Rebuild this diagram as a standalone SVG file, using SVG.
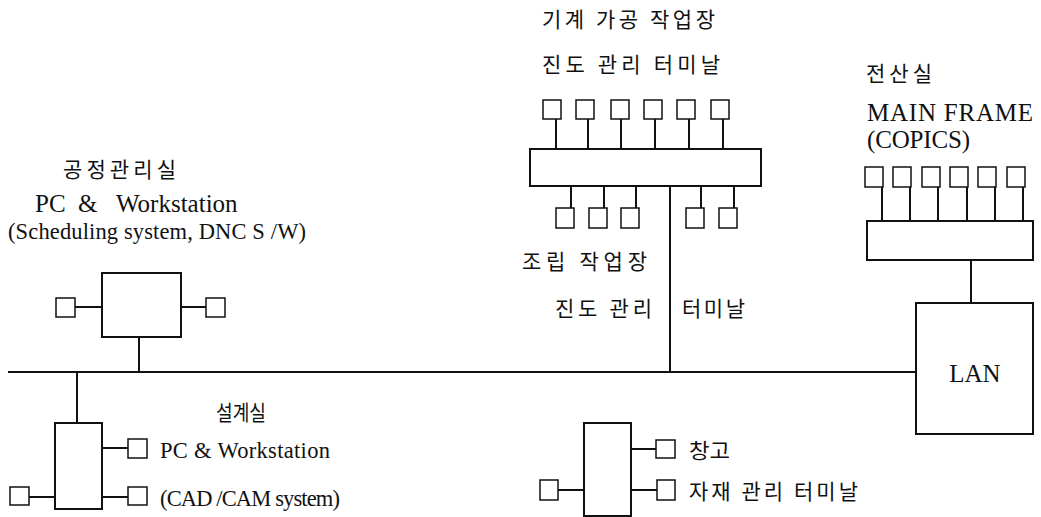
<svg xmlns="http://www.w3.org/2000/svg" width="1041" height="517" viewBox="0 0 1041 517">
<style>
.ln{stroke:#111;stroke-width:2;fill:none}
.bx{stroke:#111;stroke-width:2;fill:#fff}
.sq{stroke:#111;stroke-width:1.5;fill:#fff}
.ko{font-family:"Noto Sans CJK KR","Noto Sans",sans-serif;font-size:21px;fill:#111}
.en{font-family:"Liberation Serif","Times New Roman",serif;font-size:25px;fill:#111}
.en2{font-family:"Liberation Serif","Times New Roman",serif;font-size:22.5px;fill:#111}
</style>
<rect width="1041" height="517" fill="#fff"/>
<g id="connectors">
<line class="ln" x1="8" y1="372" x2="916" y2="372"/>
<line class="ln" x1="139" y1="337" x2="139" y2="372"/>
<line class="ln" x1="77" y1="372" x2="77" y2="423"/>
<line class="ln" x1="670" y1="186" x2="670" y2="372"/>
<line class="ln" x1="971" y1="260" x2="971" y2="303"/>
</g>
<g id="machine-shop">
<rect class="sq" x="543" y="100" width="18" height="19"/>
<rect class="sq" x="576" y="100" width="18" height="19"/>
<rect class="sq" x="611" y="100" width="18" height="19"/>
<rect class="sq" x="644" y="100" width="18" height="19"/>
<rect class="sq" x="677" y="100" width="18" height="19"/>
<rect class="sq" x="711" y="100" width="18" height="19"/>
<path class="ln" d="M556 119V149M588 119V149M621 119V149M655 119V149M689 119V149M723 119V149"/>
<rect class="bx" x="530" y="149" width="231" height="37"/>
<path class="ln" d="M571 186V208M604 186V208M636 186V208M701 186V208M734 186V208"/>
<rect class="sq" x="556" y="208" width="18" height="20"/>
<rect class="sq" x="589" y="208" width="18" height="20"/>
<rect class="sq" x="621" y="208" width="18" height="20"/>
<rect class="sq" x="686" y="208" width="18" height="20"/>
<rect class="sq" x="719" y="208" width="18" height="20"/>
<text class="ko" x="542" y="27" textLength="173" lengthAdjust="spacing">기계 가공 작업장</text>
<text class="ko" x="542" y="72" textLength="178" lengthAdjust="spacing">진도 관리 터미날</text>
<text class="ko" x="522" y="269" textLength="125" lengthAdjust="spacing">조립 작업장</text>
<text class="ko" x="555" y="316" textLength="97" lengthAdjust="spacing">진도 관리</text>
<text class="ko" x="682" y="316" textLength="63" lengthAdjust="spacing">터미날</text>
</g>
<g id="computer-room">
<text class="ko" x="866" y="81" textLength="66" lengthAdjust="spacing">전산실</text>
<text class="en" x="867" y="121" textLength="166" lengthAdjust="spacing">MAIN FRAME</text>
<text class="en" x="867" y="148" textLength="103" lengthAdjust="spacing">(COPICS)</text>
<rect class="sq" x="865" y="167" width="18" height="20"/>
<rect class="sq" x="893" y="167" width="18" height="20"/>
<rect class="sq" x="922" y="167" width="18" height="20"/>
<rect class="sq" x="950" y="167" width="18" height="20"/>
<rect class="sq" x="978" y="167" width="18" height="20"/>
<rect class="sq" x="1007" y="167" width="18" height="20"/>
<path class="ln" d="M882 187V221M910 187V221M938 187V221M967 187V221M995 187V221M1023 187V221"/>
<rect class="bx" x="867" y="221" width="166" height="39"/>
</g>
<g id="lan">
<rect class="bx" x="916" y="303" width="117" height="131"/>
<text class="en" x="975" y="382" text-anchor="middle">LAN</text>
</g>
<g id="process-control">
<text class="ko" x="63" y="177" textLength="113" lengthAdjust="spacing">공정관리실</text>
<text class="en" x="35" y="212"><tspan x="35">PC</tspan><tspan x="78">&amp;</tspan><tspan x="116">Workstation</tspan></text>
<text class="en2" x="8" y="239" textLength="298" lengthAdjust="spacing">(Scheduling system, DNC S /W)</text>
<rect class="bx" x="102" y="273" width="79" height="64"/>
<rect class="sq" x="56" y="298" width="19" height="19"/>
<rect class="sq" x="206" y="298" width="19" height="19"/>
<path class="ln" d="M75 307H102M181 307H206"/>
</g>
<g id="design-room">
<text class="ko" x="216" y="420" textLength="50" lengthAdjust="spacingAndGlyphs">설계실</text>
<text class="en2" x="160" y="458" textLength="170" lengthAdjust="spacing">PC &amp; Workstation</text>
<text class="en2" x="160" y="506" font-size="21" textLength="180" lengthAdjust="spacing">(CAD /CAM system)</text>
<rect class="bx" x="55" y="423" width="47" height="86"/>
<rect class="sq" x="128" y="439" width="19" height="19"/>
<rect class="sq" x="128" y="487" width="19" height="18"/>
<rect class="sq" x="10" y="487" width="19" height="18"/>
<path class="ln" d="M102 448H128M102 497H128M29 497H55"/>
</g>
<g id="warehouse">
<rect class="bx" x="584" y="423" width="47" height="93"/>
<rect class="sq" x="656" y="440" width="19" height="18"/>
<rect class="sq" x="657" y="480" width="18" height="20"/>
<rect class="sq" x="540" y="480" width="18" height="20"/>
<path class="ln" d="M631 449H656M631 490H657M558 490H584"/>
<text class="ko" x="689" y="458" textLength="41" lengthAdjust="spacingAndGlyphs">창고</text>
<text class="ko" x="689" y="499" textLength="169" lengthAdjust="spacing">자재 관리 터미날</text>
</g>
</svg>
